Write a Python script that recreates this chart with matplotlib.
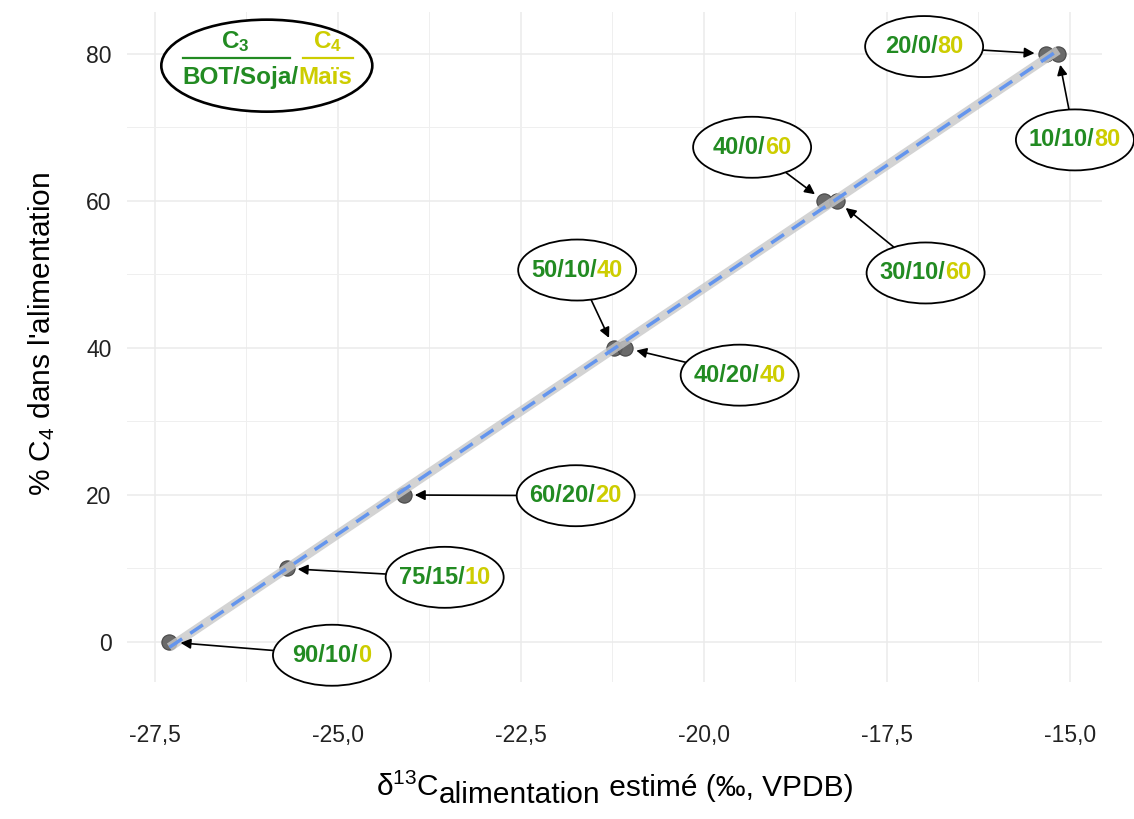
import matplotlib.pyplot as plt
import numpy as np
from matplotlib.patches import Ellipse, FancyArrowPatch
from matplotlib.offsetbox import TextArea, HPacker, AnnotationBbox
from matplotlib.transforms import ScaledTranslation
from matplotlib.ticker import MultipleLocator, FuncFormatter

plt.rcParams['font.family'] = ['Liberation Sans', 'DejaVu Sans']
plt.rcParams['mathtext.default'] = 'regular'

# rations BOT / Soja / Maïs (%) and estimated d13C of the feed
bot = [90, 75, 60, 50, 40, 40, 30, 20, 10]
soja = [10, 15, 20, 10, 20, 0, 10, 0, 10]
mais = [0, 10, 20, 40, 40, 60, 60, 80, 80]
d13c = [-27.3, -25.7, -24.1, -21.23, -21.07, -18.36, -18.18, -15.33, -15.16]

# where each ration label sits (data units)
label_x = [-25.08, -23.54, -21.75, -21.73, -19.51, -19.34, -16.97, -16.99, -14.93]
label_y = [-1.8, 8.8, 19.9, 50.6, 36.3, 67.3, 50.2, 81.0, 68.3]

green = '#228B22'
yellow = '#CDCD00'

fig = plt.figure(figsize=(11.34, 8.19), dpi=100)
ax = fig.add_axes([127 / 1134, 1 - 682 / 819, 975 / 1134, 670 / 819])
ax.set_xlim(-27.88, -14.56)
ax.set_ylim(-5.44, 85.7)

ax.xaxis.set_major_locator(MultipleLocator(2.5))
ax.xaxis.set_minor_locator(MultipleLocator(1.25))
ax.yaxis.set_major_locator(MultipleLocator(20))
ax.yaxis.set_minor_locator(MultipleLocator(10))
ax.xaxis.set_major_formatter(FuncFormatter(lambda v, p: f'{v:.1f}'.replace('.', ',')))
ax.grid(which='major', color='#EBEBEB', lw=1.1)
ax.grid(which='minor', color='#EFEFEF', lw=0.7)
ax.set_axisbelow(True)
for s in ax.spines.values():
    s.set_visible(False)
ax.tick_params(which='both', length=0, labelsize=16.5, labelcolor='#222222')
ax.tick_params(axis='x', pad=30)
ax.tick_params(axis='y', pad=11)

ax.set_ylabel('% C$_4$ dans l\'alimentation', fontsize=21.5)
ax.yaxis.set_label_coords(-0.072, 0.52)

# x title: subscript kept at full size, just lowered
xt1 = fig.text(0.3, 1 - 796 / 819, 'δ$^{13}$C', fontsize=21.5, va='baseline')
xt2 = ax.annotate('alimentation', xy=(1, 0), xycoords=xt1, xytext=(0, -5),
                  textcoords='offset points', fontsize=21.5, va='bottom')
xt3 = ax.annotate(' estimé (‰, VPDB)', xy=(1, 0), xycoords=xt2, xytext=(0, 5),
                  textcoords='offset points', fontsize=21.5, va='bottom')

# points and linear fit
ax.plot(d13c, mais, 'o', ms=11, mfc='#5A5A5A', mec='#3F3F3F', mew=0.8, alpha=0.9, zorder=3)
slope, intercept = np.polyfit(d13c, mais, 1)
xs = np.array([min(d13c), max(d13c)])
ys = slope * xs + intercept
ax.plot(xs, ys, color='#C8C8C8', lw=6.5, alpha=0.8, solid_capstyle='butt', zorder=4)
ax.plot(xs, ys, color='#6495ED', lw=2.5, ls=(0, (4.4, 2.8)), zorder=5)

label_font = dict(fontsize=17, fontweight='bold')
for x, y, lx, ly, b, s, m in zip(d13c, mais, label_x, label_y, bot, soja, mais):
    t = fig.dpi_scale_trans + ScaledTranslation(lx, ly, ax.transData)
    ell = Ellipse((0, 0), 1.18, 0.61, transform=t, facecolor='white',
                  edgecolor='black', lw=1.3, zorder=6, clip_on=False)
    ax.add_patch(ell)
    arrow = FancyArrowPatch((lx, ly), (x, y), patchA=ell, arrowstyle='-|>',
                            mutation_scale=15, shrinkA=0, shrinkB=8,
                            color='black', lw=1.2, zorder=6)
    ax.add_patch(arrow)
    box = HPacker(children=[TextArea(f'{b}/{s}/', textprops=dict(color=green, **label_font)),
                            TextArea(f'{m}', textprops=dict(color=yellow, **label_font))],
                  sep=0, pad=0, align='baseline')
    ax.add_artist(AnnotationBbox(box, (lx, ly), frameon=False, box_alignment=(0.5, 0.5),
                                 zorder=7, annotation_clip=False))

# key: C3 / C4 sources
kt = fig.dpi_scale_trans + ScaledTranslation(-25.97, 78.4, ax.transData)
ax.add_patch(Ellipse((0, 0), 2.11, 0.92, transform=kt, facecolor='white',
                     edgecolor='black', lw=1.9, zorder=6, clip_on=False))
key_font = dict(fontsize=17.5, fontweight='bold', ha='center', va='center', zorder=7)
ax.text(-0.32, 0.24, 'C$_3$', transform=kt, color=green, **key_font)
ax.text(0.61, 0.24, 'C$_4$', transform=kt, color=yellow, **key_font)
ax.plot([-0.84, 0.23], [0.08, 0.08], transform=kt, color=green, lw=1.6, zorder=7, clip_on=False)
ax.plot([0.36, 0.86], [0.08, 0.08], transform=kt, color=yellow, lw=1.6, zorder=7, clip_on=False)
key_row = HPacker(children=[TextArea('BOT/Soja/', textprops=dict(color=green, fontsize=17.5, fontweight='bold')),
                            TextArea('Maïs', textprops=dict(color=yellow, fontsize=17.5, fontweight='bold'))],
                  sep=0, pad=0, align='baseline')
ax.add_artist(AnnotationBbox(key_row, (0.005, -0.12), xycoords=kt, frameon=False,
                             box_alignment=(0.5, 0.5), zorder=7, annotation_clip=False))

# centre the x title under the panel
fig.canvas.draw()
r = fig.canvas.get_renderer()
x0 = xt1.get_window_extent(r).x0
x1 = xt3.get_window_extent(r).x1
panel = ax.get_window_extent(r)
shift = (panel.x0 + panel.x1) / 2 - (x0 + x1) / 2
xt1.set_x(xt1.get_position()[0] + shift / fig.bbox.width)

fig.savefig('out.png', dpi=100)
